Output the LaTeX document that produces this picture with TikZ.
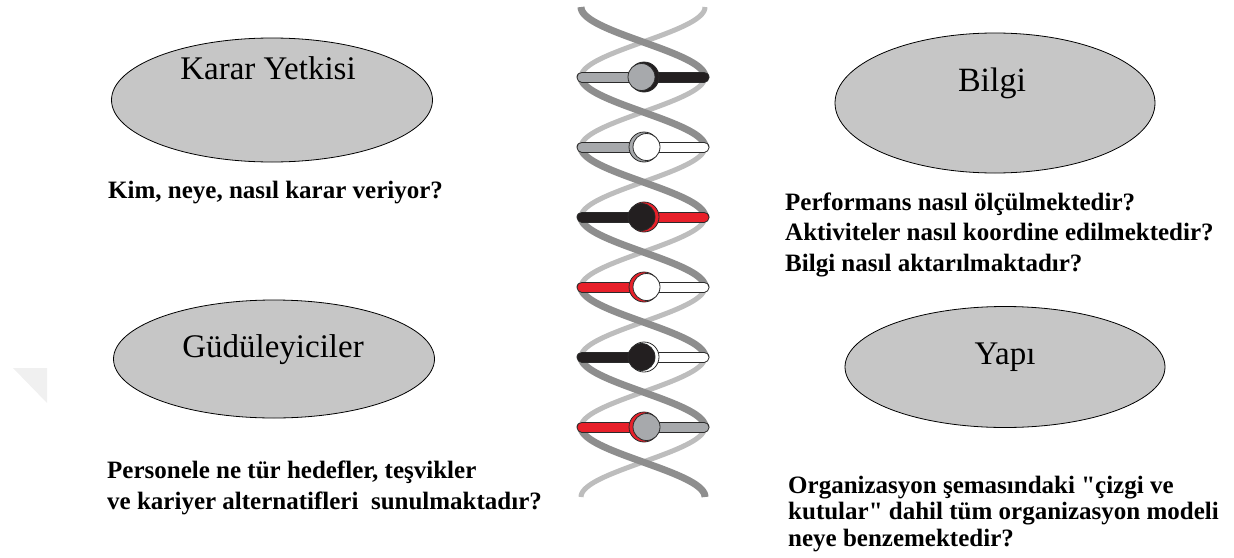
\documentclass[tikz,border=0pt]{standalone}
\usepackage{fontspec}
\setmainfont{Liberation Serif}
% plain family for the questions, so that " stays a straight quote
\newfontfamily\questionfont{Liberation Serif}
\usetikzlibrary{shapes.geometric}

\definecolor{ovalfill}{HTML}{C6C6C6}
\definecolor{strandfront}{HTML}{8E8E8E}
\definecolor{strandback}{HTML}{BDBDBD}
\definecolor{rodgray}{HTML}{A7A9AC}
\definecolor{rodblack}{HTML}{231F20}
\definecolor{rodred}{HTML}{E8202A}
\definecolor{rodwhite}{HTML}{FFFFFF}
\definecolor{edge}{HTML}{2A2A2A}

\tikzset{
  oval/.style={ellipse, draw=black, line width=0.8pt, fill=ovalfill, inner sep=0pt},
  ovaltitle/.style={inner sep=0pt, anchor=base},
  question/.style={inner sep=0pt, anchor=base west, align=left,
    font=\questionfont\bfseries\fontsize{25}{30.5}\selectfont},
  backstrand/.style={draw=strandback, line width=5pt},
  frontstrand/.style={draw=strandfront, line width=7pt},
}

% one rung of the helix: y, left colour, right colour, ball colour, crescent colour, shift
\newcommand{\helixrung}[6]{%
  \draw[edge, line width=11pt, line cap=round] (582,#1) -- (643,#1);
  \draw[#2, line width=9pt, line cap=round] (582,#1) -- (643,#1);
  \draw[edge, line width=11pt, line cap=round] (643,#1) -- (704,#1);
  \draw[#3, line width=9pt, line cap=round] (643,#1) -- (704,#1);
  \fill[#5, draw=edge, line width=0.8pt] (644,#1) circle[radius=15];
  \fill[#4, draw=edge, line width=0.8pt] ({644+#6},#1) circle[radius=13.5];
}

\begin{document}
\begin{tikzpicture}[x=1pt,y=-1pt]
\useasboundingbox (0,0) rectangle (1234,557);

% faint corner mark on the left
\fill[gray!12] (13,368) -- (47,368) -- (47,403) -- cycle;

% the four ovals
\node[oval, minimum width=321pt, minimum height=124pt] (karar) at (272,100) {};
\node[oval, minimum width=320pt, minimum height=140pt] (bilgi) at (995,103) {};
\node[oval, minimum width=321pt, minimum height=118pt] (gudu) at (274,359) {};
\node[oval, minimum width=320pt, minimum height=121pt] (yapi) at (1005,367) {};

\node[ovaltitle, font=\fontsize{33}{38}\selectfont] (kararT) at (268,79) {Karar Yetkisi};
\node[ovaltitle, font=\fontsize{34}{40}\selectfont] (bilgiT) at (992,91) {Bilgi};
\node[ovaltitle, font=\fontsize{33}{40}\selectfont] (guduT) at (273,357) {Güdüleyiciler};
\node[ovaltitle, font=\fontsize{33}{40}\selectfont] (yapiT) at (1005,364) {Yapı};

% the questions under each oval (multi-line nodes sit on their last baseline)
\node[question] (kararQ) at (108,198) {Kim, neye, nasıl karar veriyor?};
\node[question] (bilgiQ) at (785,271) {Performans nasıl ölçülmektedir?\\Aktiviteler nasıl koordine edilmektedir?\\Bilgi nasıl aktarılmaktadır?};
\node[question, font=\questionfont\bfseries\fontsize{25}{31}\selectfont] (guduQ) at (107,509) {Personele ne tür hedefler, teşvikler\\ve kariyer alternatifleri\ \ sunulmaktadır?};
\node[question, font=\questionfont\bfseries\fontsize{25}{26.5}\selectfont] (yapiQ) at (788,546) {Organizasyon şemasındaki "çizgi ve\\kutular" dahil tüm organizasyon modeli\\neye benzemektedir?};

% double helix: back halves first, then the front halves
\foreach \a/\b in {77/147, 217/287, 357/427}
  \draw[backstrand] plot[domain=\a:\b, samples=40, variable=\t] ({643+62*sin(2.571429*(\t-42))}, \t);
\foreach \a/\b in {7/77, 147/217, 287/357, 427/497}
  \draw[backstrand] plot[domain=\a:\b, samples=40, variable=\t] ({643-62*sin(2.571429*(\t-42))}, \t);
\foreach \a/\b in {7/77, 147/217, 287/357, 427/497}
  \draw[frontstrand] plot[domain=\a:\b, samples=40, variable=\t] ({643+62*sin(2.571429*(\t-42))}, \t);
\foreach \a/\b in {77/147, 217/287, 357/427}
  \draw[frontstrand] plot[domain=\a:\b, samples=40, variable=\t] ({643-62*sin(2.571429*(\t-42))}, \t);

% rungs with their balls
\helixrung{77}{rodgray}{rodblack}{rodgray}{rodblack}{-2.5}
\helixrung{147}{rodgray}{rodwhite}{rodwhite}{rodgray}{2.5}
\helixrung{217}{rodblack}{rodred}{rodblack}{rodred}{-2.5}
\helixrung{287}{rodred}{rodwhite}{rodwhite}{rodred}{2.5}
\helixrung{357}{rodblack}{rodwhite}{rodblack}{rodwhite}{-2.5}
\helixrung{427}{rodred}{rodgray}{rodgray}{rodred}{2.5}
\end{tikzpicture}
\end{document}
